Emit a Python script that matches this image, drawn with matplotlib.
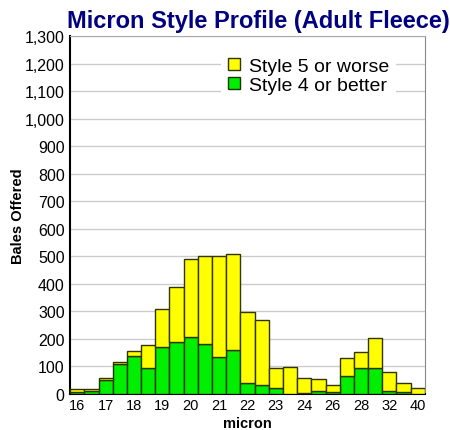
import numpy as np
import matplotlib
matplotlib.use('Agg')
from matplotlib import pyplot as plt

plt.rcParams['font.family'] = ['Liberation Sans', 'DejaVu Sans']

microns = ['16', '16.5', '17', '17.5', '18', '18.5', '19', '19.5', '20', '20.5',
           '21', '21.5', '22', '22.5', '23', '23.5', '24', '25', '26', '27',
           '28', '30', '32', '35', '40']
style4 = [8, 11, 50, 108, 137, 93, 172, 188, 207, 182, 133, 159, 40, 33,
          21, 1, 2, 10, 6, 64, 93, 94, 11, 6, 1]
totals = [17, 20, 58, 115, 155, 178, 310, 387, 492, 503, 503, 507, 297, 268,
          94, 99, 57, 53, 31, 130, 151, 205, 79, 39, 22]
style5 = [t - g for t, g in zip(totals, style4)]

fig = plt.figure(figsize=(4.5, 4.31), dpi=100)
ax = fig.add_axes([0.156, 0.0835, 0.788, 0.8305])

x = np.arange(len(microns))
green = ax.bar(x, style4, 1.0, color='#00ee00', edgecolor='#1a3300', linewidth=1, zorder=3)
yellow = ax.bar(x, style5, 1.0, bottom=style4, color='#ffff00', edgecolor='#333300',
                linewidth=1, zorder=3)

ax.set_xlim(-0.5, len(microns) - 0.5)
ax.set_ylim(0, 1300)
ax.set_yticks(np.arange(0, 1301, 100))
ax.set_yticklabels(['{:,}'.format(v) for v in range(0, 1301, 100)], fontsize=11.5)
ax.set_xticks(x[::2])
ax.set_xticklabels(microns[::2], fontsize=10.5)
ax.tick_params(length=0, pad=3)
ax.tick_params(axis='y', pad=4)
ax.yaxis.grid(True, color='#cccccc', linewidth=1, zorder=0)
ax.set_axisbelow(True)

ax.spines['left'].set_color('black')
ax.spines['bottom'].set_color('black')
ax.spines['left'].set_linewidth(1.5)
ax.spines['bottom'].set_linewidth(1.5)
ax.spines['top'].set_color('#aaaaaa')
ax.spines['right'].set_color('#888888')

ax.set_xlabel('micron', fontsize=10.5, fontweight='bold', labelpad=2.5)
ax.set_ylabel('Bales Offered', fontsize=10.5, fontweight='bold', labelpad=0)

leg = ax.legend([yellow, green], ['Style 5 or worse', 'Style 4 or better'],
                loc='upper right', bbox_to_anchor=(0.945, 0.985), fontsize=14,
                frameon=True, fancybox=False, edgecolor='none', framealpha=1,
                handlelength=0.6, handleheight=0.6, handletextpad=0.45,
                labelspacing=0.1, borderpad=0.35)
leg.set_zorder(5)

fig.text(0.575, 0.95, 'Micron Style Profile (Adult Fleece)', ha='center', va='center',
         fontsize=17, fontweight='bold', color='#000080')

fig.savefig('out.png', dpi=100)
